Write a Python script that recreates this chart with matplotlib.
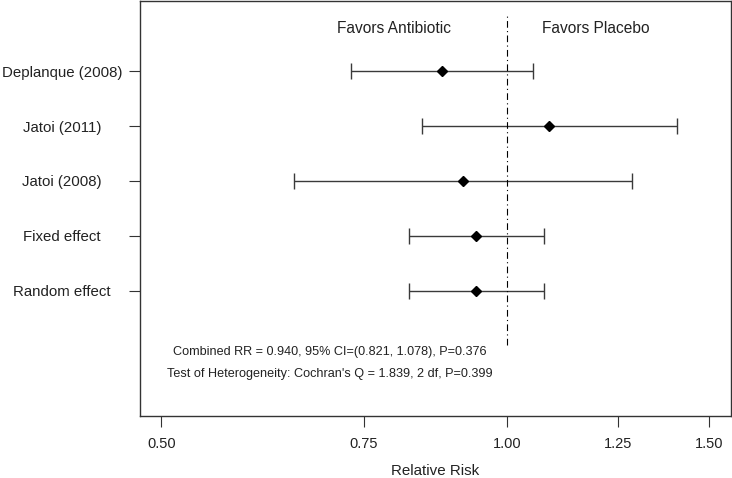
import matplotlib
matplotlib.use("Agg")
import matplotlib.pyplot as plt
import numpy as np

studies = ["Deplanque (2008)", "Jatoi (2011)", "Jatoi (2008)", "Fixed effect", "Random effect"]
rr = [0.877, 1.088, 0.915, 0.940, 0.940]
lower = [0.732, 0.844, 0.652, 0.821, 0.821]
upper = [1.053, 1.407, 1.285, 1.078, 1.078]
xticks = [0.50, 0.75, 1.00, 1.25, 1.50]
xtick_labels = ["0.50", "0.75", "1.00", "1.25", "1.50"]
ypos = [5, 4, 3, 2, 1]
summary_lines = ["Combined RR = 0.940, 95% CI=(0.821, 1.078), P=0.376",
                 "Test of Heterogeneity: Cochran's Q = 1.839, 2 df, P=0.399"]

plt.rcParams['font.family'] = ['Liberation Sans', 'DejaVu Sans']

fig = plt.figure(figsize=(7.32, 4.78), dpi=100)
ax = fig.add_axes([0.1906, 0.1303, 0.8080, 0.8677])

ax.set_xscale('log')
lo = np.log(0.5); hi = np.log(1.5); pad = 0.04 * (hi - lo)
ax.set_xlim(np.exp(lo - pad), np.exp(hi + pad))
ax.set_ylim(-1 - 0.28, 6 + 0.28)

xerr = [np.array(rr) - np.array(lower), np.array(upper) - np.array(rr)]
ax.errorbar(rr, ypos, xerr=xerr, fmt='D', color='black', ecolor='#3a3a3a',
            elinewidth=1.0, capsize=5.8, capthick=1.0, markersize=5.2)

ax.plot([1, 1], [0, 6], color='black', linestyle=(0, (6, 3, 1, 3)), linewidth=0.8)

ax.text(0.7967, 5.78, "Favors Antibiotic", ha='center', va='center', fontsize=11.2, color='#222222')
ax.text(1.1954, 5.78, "Favors Placebo", ha='center', va='center', fontsize=11.2, color='#222222')
ax.text(0.701, -0.115, summary_lines[0], ha='center', va='center', fontsize=9.1, color='#222222')
ax.text(0.701, -0.515, summary_lines[1], ha='center', va='center', fontsize=9.1, color='#222222')

ax.set_xticks(xticks)
ax.set_xticklabels(xtick_labels)
ax.minorticks_off()
ax.set_yticks(ypos)
ax.set_yticklabels(studies, ha='center')
ax.tick_params(axis='both', direction='out', length=8, width=0.8, color='#333333',
               labelsize=10.8, labelcolor='#222222')
ax.tick_params(axis='y', pad=47.6)
ax.tick_params(axis='x', pad=7, labelsize=10.5)
ax.set_xlabel("Relative Risk", fontsize=10.9, color='#222222', labelpad=10)

for s in ax.spines.values():
    s.set_linewidth(1.0)
    s.set_color('#333333')

fig.savefig("out.png", dpi=100)
